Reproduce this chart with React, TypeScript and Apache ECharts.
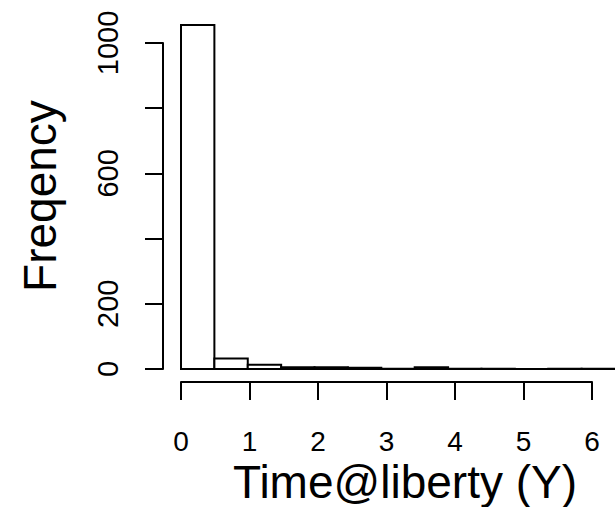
import React, { useEffect, useRef } from "react";
import * as echarts from "echarts";

// Histogram bins (Time@liberty, years) and counts
const binStarts = [0, 0.5, 1, 1.5, 2, 2.5, 3, 3.5, 4, 4.5, 5, 5.5, 6];
const binEnds = [0.5, 1, 1.5, 2, 2.5, 3, 3.5, 4, 4.5, 5, 5.5, 6, 6.5];
const counts = [1055, 32, 13, 5, 5, 4, 1, 5, 1, 1, 0, 1, 1];
const yTicks = [0, 200, 400, 600, 800, 1000];
const yTickLabelsShown = ["0", "200", "600", "1000"];
const xTicks = [0, 1, 2, 3, 4, 5, 6];
const xTitle = "Time@liberty (Y)";
const yTitle = "Freqency";

const FONT = "'Liberation Sans', Arial, Helvetica, sans-serif";

export default function App() {
  const ref = useRef<HTMLDivElement>(null);
  useEffect(() => {
    if (!ref.current) return;
    const chart = echarts.init(ref.current, undefined, { renderer: "svg" });
    const data = binStarts.map((s, i) => [s, binEnds[i], counts[i]]);
    const pxPerUnitX = 68.5;
    const pxPerCount = 0.326;
    const baseY = 369;
    const barYMax = 1100;
    chart.setOption({
      animation: false,
      backgroundColor: "#ffffff",
      grid: [
        {
          left: 181,
          top: baseY - barYMax * pxPerCount,
          width: 6.5 * pxPerUnitX,
          height: barYMax * pxPerCount,
        },
        { left: 163, top: baseY - 1000 * pxPerCount, width: 10, height: 1000 * pxPerCount },
        { left: 181, top: 300, width: 6 * pxPerUnitX, height: 82 },
      ],
      xAxis: [
        { type: "value", gridIndex: 0, min: 0, max: 6.5, show: false },
        { type: "value", gridIndex: 1, min: 0, max: 1, show: false },
        {
          type: "value",
          gridIndex: 2,
          min: 0,
          max: 6,
          interval: 1,
          position: "bottom",
          axisLine: { show: true, lineStyle: { color: "#000", width: 2 } },
          axisTick: { show: true, length: 18, lineStyle: { color: "#000", width: 2 } },
          splitLine: { show: false },
          axisLabel: {
            color: "#000",
            fontSize: 28,
            fontFamily: FONT,
            margin: 45,
            formatter: (v: number) => (xTicks.includes(v) ? String(v) : ""),
          },
        },
      ],
      yAxis: [
        { type: "value", gridIndex: 0, min: 0, max: barYMax, show: false },
        {
          type: "value",
          gridIndex: 1,
          min: 0,
          max: 1000,
          interval: 200,
          position: "left",
          axisLine: { show: true, lineStyle: { color: "#000", width: 2 } },
          axisTick: { show: true, length: 18, lineStyle: { color: "#000", width: 2 } },
          splitLine: { show: false },
          axisLabel: {
            color: "#000",
            fontSize: 29,
            fontFamily: FONT,
            rotate: 90,
            margin: 41,
            formatter: (v: number) =>
              yTicks.includes(v) && yTickLabelsShown.includes(String(v)) ? String(v) : "",
          },
        },
        { type: "value", gridIndex: 2, min: 0, max: 1, show: false },
      ],
      series: [
        {
          type: "custom",
          xAxisIndex: 0,
          yAxisIndex: 0,
          encode: { x: [0, 1], y: 2 },
          data,
          renderItem: (params: any, api: any) => {
            const p0 = api.coord([api.value(0), api.value(2)]);
            const p1 = api.coord([api.value(1), 0]);
            return {
              type: "rect",
              shape: { x: p0[0], y: p0[1], width: p1[0] - p0[0], height: p1[1] - p0[1] },
              style: { fill: "#ffffff", stroke: "#000000", lineWidth: 2 },
            };
          },
        },
      ],
      graphic: [
        {
          type: "text",
          x: 405,
          y: 482,
          style: {
            text: xTitle,
            fontSize: 46,
            fontFamily: FONT,
            fill: "#000",
            textAlign: "center",
            textVerticalAlign: "middle",
          },
        },
        {
          type: "text",
          x: 40,
          y: 196,
          rotation: Math.PI / 2,
          style: {
            text: yTitle,
            fontSize: 46,
            fontFamily: FONT,
            fill: "#000",
            textAlign: "center",
            textVerticalAlign: "middle",
          },
        },
      ],
    });
    return () => chart.dispose();
  }, []);
  return (
    <div
      ref={ref}
      style={{ position: "absolute", left: 0, top: 0, width: 615, height: 507 }}
    />
  );
}
